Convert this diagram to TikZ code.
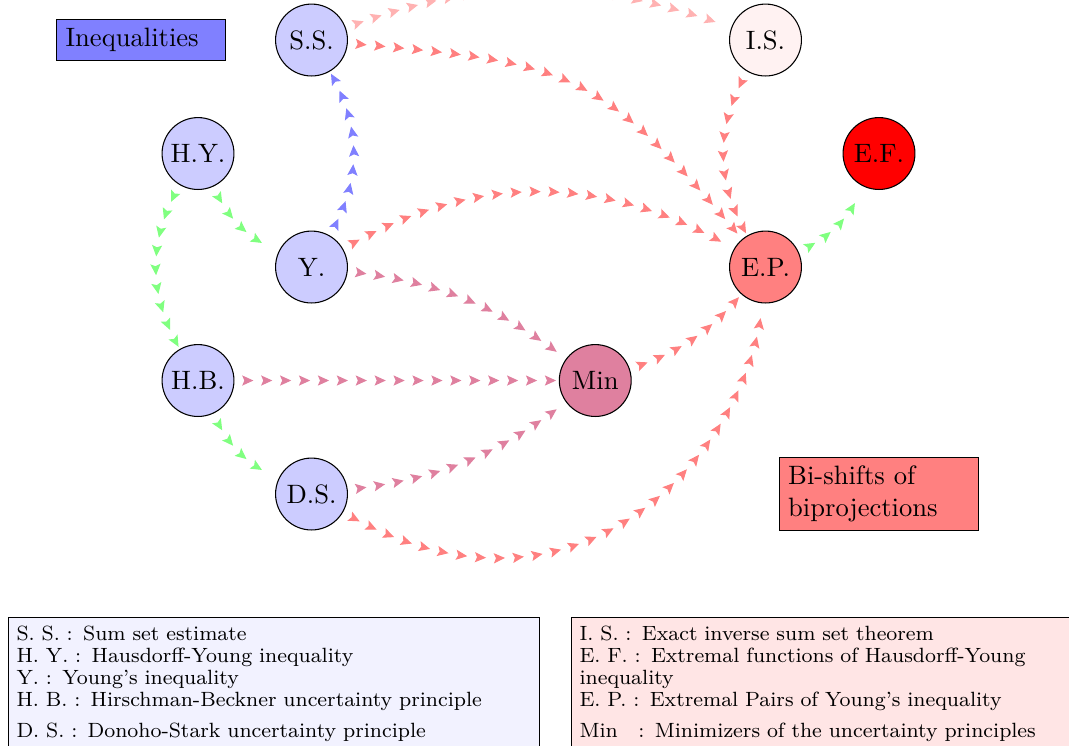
\documentclass[tikz,border=0pt]{standalone}
\usepackage{xcolor}
\usepackage{tikz}
\usetikzlibrary{arrows.meta, positioning, decorations.markings, backgrounds}
\tikzset{
    concept/.style={circle, minimum size=0.95cm, inner sep=1pt, text centered, draw},
    tag/.style={rectangle, draw, align=left, inner sep=3.33pt},
    legend/.style={rectangle, draw, align=left, text width=6.8cm, inner xsep=3pt, inner ysep=3pt, font=\fontsize{7.75}{8.3}\selectfont},
    arrowtrail/.style={decorate, decoration={markings, mark=between positions 0 and 1 step 0.25cm with {\arrow[color=#1]{Stealth[length=4.2pt, width=3.8pt, inset=0.8pt]}}}}
}

\begin{document}
\begin{tikzpicture}
    \useasboundingbox (-2.617,-9.330) rectangle (11.511,0.529);

    % Inequalities
    \node[concept, fill=blue!20] (sum_set) at (1.5,0) {S.S.};
    \node[concept, fill=blue!20] (haus_young) at (0,-1.5) {H.Y.};
    \node[concept, fill=blue!20] (young) at (1.5,-3) {Y.};
    \node[concept, fill=blue!20] (hirsch_beck) at (0,-4.5) {H.B.};
    \node[concept, fill=blue!20] (donoho_stark) at (1.5,-6) {D.S.};

    % Extremal objects
    \node[concept, fill=red!5] (inv_sum) at (7.5,0) {I.S.};
    \node[concept, fill=red] (ext_func) at (9,-1.5) {E.F.};
    \node[concept, fill=red!50] (ext_pair) at (7.5,-3) {E.P.};
    \node[concept, fill=purple!50] (minimizer) at (5.25,-4.5) {Min};

    % Labels
    \node[tag, fill=blue!50, text width=2cm] (ineq_label) at (-0.75,0) {Inequalities};
    \node[tag, fill=red!50, text width=2.4cm] (bishift_label) at (9,-6) {Bi-shifts of\\ biprojections};

    % Legend
    \node[legend, fill=blue!5, anchor=north west] (legend_left) at (-2.511,-7.626) {%
        S. S. : Sum set estimate\\
        H. Y. : Hausdorff-Young inequality\\
        Y. : Young's inequality\\
        H. B. : Hirschman-Beckner uncertainty principle\\[3.5pt]
        D. S. : Donoho-Stark uncertainty principle\\ \mbox{}%
    };
    \node[legend, fill=red!10, anchor=north west] (legend_right) at (4.93,-7.626) {%
        I. S. : Exact inverse sum set theorem\\
        E. F. : Extremal functions of Hausdorff-Young\\ inequality\\
        E. P. : Extremal Pairs of Young's inequality\\[3.5pt]
        Min\quad : Minimizers of the uncertainty principles\\ \mbox{}%
    };

    % Links
    \begin{scope}[on background layer]
    \draw[arrowtrail=red!30] (sum_set) to[bend left=20] (inv_sum);
    \draw[arrowtrail=red!50] (sum_set) to[out=-5, in=130, looseness=1.3] (ext_pair);
    \draw[arrowtrail=blue!50] (young) to[bend right=30] (sum_set);
    \draw[arrowtrail=green!50] (haus_young) to[bend right=20] (young);
    \draw[arrowtrail=green!50] (haus_young) to[bend right=30] (hirsch_beck);
    \draw[arrowtrail=green!50] (hirsch_beck) to[bend right=20] (donoho_stark);
    \draw[arrowtrail=red!50] (young) to[bend left=30] (ext_pair);
    \draw[arrowtrail=purple!50] (young) to[bend left=15] (minimizer);
    \draw[arrowtrail=purple!50] (hirsch_beck) -- (minimizer);
    \draw[arrowtrail=purple!50] (donoho_stark) to[bend right=15] (minimizer);
    \draw[arrowtrail=red!50] (minimizer) to[bend right=15] (ext_pair);
    \draw[arrowtrail=red!50] (donoho_stark) to[out=-30, in=-95, out looseness=1.5, in looseness=0.8] (ext_pair);
    \draw[arrowtrail=red!50] (inv_sum) to[bend right=30] (ext_pair);
    \draw[arrowtrail=green!50] (ext_pair) to[bend right=20] (ext_func);
    \end{scope}
\end{tikzpicture}
\end{document}
